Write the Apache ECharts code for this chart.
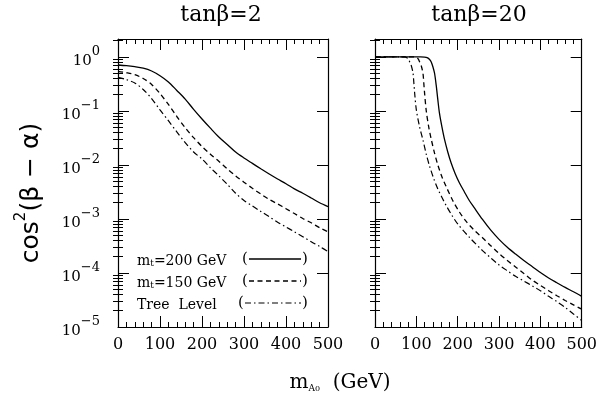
<!DOCTYPE html>
<html><head><meta charset="utf-8">
<script src="https://cdn.jsdelivr.net/npm/echarts@6/dist/echarts.min.js"></script>
<style>html,body{margin:0;padding:0;background:#fff}#c{width:600px;height:400px}</style>
</head><body><div id="c"></div>
<script>
// ---- data ----
const panelTitles = ['tanβ=2', 'tanβ=20'];
const xTicks = [0, 100, 200, 300, 400, 500];
const yMajorTicks = [1e-5, 1e-4, 1e-3, 1e-2, 1e-1, 1];
const yTickExps = ['−5', '−4', '−3', '−2', '−1', '0'];

// tan(beta)=2 panel
const massLeft = [0,20,40,60,80,100,120,140,160,180,200,220,240,260,280,300,320,340,360,380,400,420,440,460,480,500];
const left200  = [0.71,0.69,0.66,0.62,0.55,0.45,0.345,0.24,0.166,0.107,0.071,0.048,0.033,0.024,0.0174,0.0135,0.0107,0.0085,0.0068,0.0055,0.0045,0.0036,0.0030,0.00245,0.0020,0.0017];
const left150  = [0.54,0.51,0.47,0.40,0.31,0.21,0.132,0.079,0.049,0.032,0.022,0.0158,0.0117,0.0085,0.0063,0.0048,0.0037,0.0029,0.0023,0.0019,0.00155,0.00126,0.00102,0.00085,0.00069,0.00058];
const leftTree = [0.42,0.38,0.33,0.25,0.17,0.105,0.066,0.041,0.026,0.0174,0.0129,0.0089,0.0063,0.0044,0.0030,0.0022,0.00174,0.00138,0.0011,0.00087,0.00071,0.00058,0.00047,0.00038,0.00031,0.00025];

// tan(beta)=20 panel
const massR200 = [0,40,80,110,120,126,132,136,140,144,148,152,156,162,168,176,184,194,204,216,228,240,260,280,300,320,340,360,380,400,420,440,460,480,500];
const right200 = [1,1,1,1,0.995,0.97,0.90,0.81,0.66,0.50,0.30,0.16,0.09,0.050,0.030,0.0174,0.011,0.0069,0.0047,0.0032,0.0022,0.00162,0.00098,0.00062,0.00042,0.0003,0.000224,0.00017,0.000132,0.000102,0.000081,0.000066,0.000054,0.000045,0.000037];
const massR150 = [0,40,80,96,100,104,108,112,116,118,120,124,130,136,144,152,162,172,188,204,220,240,260,280,300,320,340,360,380,400,420,440,460,480,500];
const right150 = [1,1,1,1,0.98,0.93,0.81,0.68,0.50,0.33,0.21,0.10,0.050,0.030,0.0166,0.010,0.006,0.004,0.0022,0.00135,0.00091,0.00062,0.00045,0.00032,0.00023,0.00017,0.000129,0.000098,0.000074,0.000059,0.000047,0.000038,0.000031,0.0000257,0.0000214];
const massRTree = [0,40,72,76,80,84,88,92,94,96,100,108,116,124,132,142,152,162,172,186,200,228,260,280,300,320,340,360,380,400,420,440,460,480,500];
const rightTree = [1,1,1,0.98,0.93,0.81,0.68,0.50,0.33,0.21,0.105,0.050,0.029,0.0158,0.0095,0.0056,0.0036,0.0025,0.00178,0.00117,0.00081,0.00046,0.00026,0.00019,0.000141,0.00011,0.000087,0.000071,0.000058,0.000047,0.000037,0.0000295,0.000023,0.0000174,0.0000132];

const legendLabels = ['{m|m}{t|t}{m|=200 GeV}', '{m|m}{t|t}{m|=150 GeV}', '{m|Tree  Level}'];
const yTitle = '{a|cos}{s|2}{a|(β − α)}';
const xTitle = '{m|m}{a|A}{o|0}{m|  (GeV)}';

// ---- chart ----
const serif = '"DejaVu Serif", serif';
const sans = '"DejaVu Sans", sans-serif';
const yMin = 1e-5, yMax = 2.15;
const yMinorTicks = [];
for (let e = -5; e <= 0; e++) for (let k = 2; k <= 9; k++) {
  const v = k * Math.pow(10, e);
  if (v <= yMax) yMinorTicks.push(v);
}
const black = '#000';
const axisLine = {show: true, onZero: false, lineStyle: {color: black, width: 1.2}};

function xAx(grid, pos, labels) {
  return {
    type: 'value', gridIndex: grid, position: pos, min: 0, max: 500, interval: 100,
    axisLine: axisLine,
    axisTick: {show: true, inside: true, length: 11, lineStyle: {color: black, width: 1}},
    minorTick: {show: true, splitNumber: 5, length: 5, lineStyle: {color: black, width: 1}},
    axisLabel: {show: labels, margin: 10, color: black, fontFamily: serif, fontSize: 16,
      customValues: xTicks, formatter: v => String(v)},
    splitLine: {show: false}, minorSplitLine: {show: false}
  };
}
const labelRich = {
  b: {fontFamily: serif, fontSize: 15, color: black, lineHeight: 24, verticalAlign: 'bottom'},
  s: {fontFamily: serif, fontSize: 13, color: black, lineHeight: 10, verticalAlign: 'top'}
};
function yMajor(grid, pos, labels) {
  return {
    type: 'log', logBase: 10, gridIndex: grid, position: pos, min: yMin, max: yMax,
    axisLine: axisLine,
    axisTick: {show: true, inside: true, length: 11, customValues: yMajorTicks, lineStyle: {color: black, width: 1}},
    axisLabel: {show: labels, customValues: yMajorTicks, margin: 18, color: black,
      formatter: v => {
        const i = yMajorTicks.findIndex(t => Math.abs(t - v) / t < 1e-6);
        return '{b|10}{s|' + (i >= 0 ? yTickExps[i] : '') + '}';
      }, rich: labelRich},
    splitLine: {show: false}, minorTick: {show: false}
  };
}
function yMinor(grid, pos) {
  return {
    type: 'log', logBase: 10, gridIndex: grid, position: pos, min: yMin, max: yMax,
    axisLine: {show: false},
    axisTick: {show: true, inside: true, length: 5, customValues: yMinorTicks, lineStyle: {color: black, width: 1}},
    axisLabel: {show: false},
    splitLine: {show: false}
  };
}

const yAxes = [
  yMajor(0, 'left', true), yMinor(0, 'left'), yMajor(0, 'right', false), yMinor(0, 'right'),
  yMajor(1, 'left', false), yMinor(1, 'left'), yMajor(1, 'right', false), yMinor(1, 'right')
];

const zip = (xs, ys) => xs.map((x, i) => [x, ys[i]]);
const styles = [
  {type: 'solid', width: 1.3},
  {type: [5, 3.5], width: 1.3},
  {type: [6, 3, 1.5, 3], width: 1.2}
];
function ser(xi, yi, xs, ys, s) {
  return {type: 'line', xAxisIndex: xi, yAxisIndex: yi, data: zip(xs, ys), symbol: 'none',
    smooth: 0.3, silent: true, lineStyle: Object.assign({color: black}, styles[s])};
}

const legendRows = [259, 281, 303];
const graphics = [];
panelTitles.forEach((t, i) => {
  graphics.push({type: 'text', x: i === 0 ? 221 : 479, y: 15,
    style: {text: t, font: '22px ' + serif, fill: black, textAlign: 'center', textVerticalAlign: 'middle'}});
});
graphics.push({type: 'text', x: 29, y: 193, rotation: Math.PI / 2, style: {
  text: yTitle, textAlign: 'center', textVerticalAlign: 'middle',
  rich: {
    a: {fontFamily: sans, fontSize: 25, fill: black, lineHeight: 30, verticalAlign: 'bottom'},
    s: {fontFamily: sans, fontSize: 15, fill: black, lineHeight: 14, verticalAlign: 'top'}
  }}});
graphics.push({type: 'text', x: 340, y: 380, style: {
  text: xTitle, textAlign: 'center', textVerticalAlign: 'middle',
  rich: {
    m: {fontFamily: serif, fontSize: 20, fill: black, lineHeight: 26, verticalAlign: 'bottom'},
    a: {fontFamily: serif, fontSize: 9, fill: black, lineHeight: 14, verticalAlign: 'bottom'},
    o: {fontFamily: serif, fontSize: 8, fill: black, lineHeight: 22, verticalAlign: 'bottom'}
  }}});
legendLabels.forEach((lab, i) => {
  const y = legendRows[i];
  const px = i === 2 ? 238 : 242;
  graphics.push({type: 'text', x: 137, y: y, style: {
    text: lab, textVerticalAlign: 'middle',
    rich: {
      m: {fontFamily: serif, fontSize: 14, fill: black, lineHeight: 18, verticalAlign: 'bottom'},
      t: {fontFamily: serif, fontSize: 9, fill: black, lineHeight: 12, verticalAlign: 'bottom'}
    }}});
  graphics.push({type: 'text', x: px, y: y, style: {text: '(', font: '15px ' + serif, fill: black, textVerticalAlign: 'middle'}});
  graphics.push({type: 'line', shape: {x1: px + 7, y1: y, x2: 301, y2: y},
    style: {stroke: black, lineWidth: styles[i].width, lineDash: styles[i].type === 'solid' ? null : styles[i].type}});
  graphics.push({type: 'text', x: 302, y: y, style: {text: ')', font: '15px ' + serif, fill: black, textVerticalAlign: 'middle'}});
});

const chart = echarts.init(document.getElementById('c'), null, {renderer: 'canvas'});
chart.setOption({
  animation: false,
  backgroundColor: '#fff',
  grid: [
    {left: 118, top: 39, width: 210, height: 288},
    {left: 375, top: 39, width: 208, height: 288}
  ],
  xAxis: [xAx(0, 'bottom', true), xAx(0, 'top', false), xAx(1, 'bottom', true), xAx(1, 'top', false)],
  yAxis: yAxes,
  series: [
    ser(0, 0, massLeft, left200, 0),
    ser(0, 0, massLeft, left150, 1),
    ser(0, 0, massLeft, leftTree, 2),
    ser(2, 4, massR200, right200, 0),
    ser(2, 4, massR150, right150, 1),
    ser(2, 4, massRTree, rightTree, 2)
  ],
  graphic: graphics
});
</script></body></html>
